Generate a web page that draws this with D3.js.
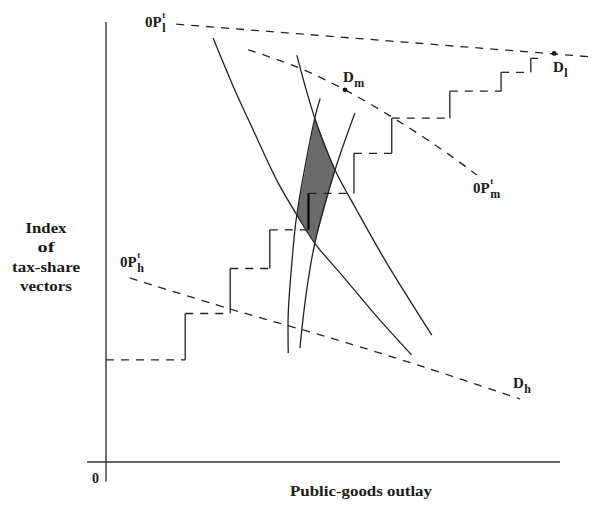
<!DOCTYPE html>
<html><head><meta charset="utf-8">
<script src="https://cdn.jsdelivr.net/npm/d3@7"></script>
<style>
html,body{margin:0;padding:0;background:#fff;}
svg text{font-family:"Liberation Serif","Times New Roman",serif;fill:#1a1a1a;}
</style></head>
<body>
<svg id="c" width="596" height="505"></svg>
<script>
// ---- data (public-goods outlay x, index of tax-share vectors y) ----
const lineLX = [15.6, 108.2];
const lineLY = [97.3, 90.0];
const lineMX = [31.6, 42.4, 53.1, 64.6, 76.4, 82.4];
const lineMY = [91.6, 87.8, 82.7, 76.0, 68.2, 63.8];
const lineHX = [5.3, 27.6, 49.8, 71.3, 92.0];
const lineHY = [40.9, 34.0, 27.6, 20.9, 14.0];
const curveAX = [23.8, 28.3, 32.7, 37.9, 42.4, 46.4, 52.7, 60.2, 67.9];
const curveAY = [94.2, 83.4, 73.8, 62.7, 54.9, 48.6, 41.2, 32.3, 23.8];
const curveBX = [42.4, 46.4, 50.9, 55.7, 62.4, 72.4];
const curveBY = [90.4, 76.4, 64.9, 56.0, 44.2, 28.2];
const curveDX = [47.6, 46.4, 42.4, 41.3, 40.5, 40.5];
const curveDY = [80.8, 76.4, 54.9, 44.2, 33.0, 24.2];
const curveEX = [55.3, 50.9, 46.4, 44.6, 43.5, 43.1];
const curveEY = [77.5, 64.9, 48.6, 38.2, 29.3, 25.3];
const coreX = [46.4, 50.9, 46.4, 42.4];
const coreY = [76.4, 64.9, 48.6, 54.9];
const stepX = [0, 17.6, 27.6, 36.4, 45.0, 55.1, 63.5, 76.4, 87.8, 94.4, 96.0];
const stepY = [22.7, 33.0, 43.0, 51.6, 59.7, 68.6, 76.4, 82.4, 86.6, 89.7];
const dotX = [53.1, 99.6];
const dotY = [82.7, 90.8];

const svg = d3.select("#c");
const x = d3.scaleLinear().domain([0, 100]).range([106, 556]);
const y = d3.scaleLinear().domain([0, 100]).range([462, 12]);
const zip = (a, b) => a.map((v, i) => [v, b[i]]);
const ink = "#222";
const dash = "8,7";

const straight = d3.line().x(d => x(d[0])).y(d => y(d[1]));
const smooth = d3.line().x(d => x(d[0])).y(d => y(d[1])).curve(d3.curveCatmullRom.alpha(0.5));

// shaded core
svg.append("path")
  .attr("d", straight(zip(coreX, coreY)) + "Z")
  .attr("fill", "#6b6b6b").attr("stroke", "none");

// axes
svg.append("line").attr("x1", x(-4.2)).attr("x2", x(100.9)).attr("y1", y(0)).attr("y2", y(0))
  .attr("stroke", "#333").attr("stroke-width", 1.4);
svg.append("line").attr("x1", x(0)).attr("x2", x(0)).attr("y1", y(-4.4)).attr("y2", y(97.8))
  .attr("stroke", "#333").attr("stroke-width", 1.4);

// dashed tax-share lines
[[lineLX, lineLY], [lineMX, lineMY], [lineHX, lineHY]].forEach(([a, b]) => {
  svg.append("path").attr("d", smooth(zip(a, b)))
    .attr("fill", "none").attr("stroke", ink).attr("stroke-width", 1.3)
    .attr("stroke-dasharray", dash);
});

// solid curves
[[curveAX, curveAY], [curveBX, curveBY], [curveDX, curveDY], [curveEX, curveEY]].forEach(([a, b]) => {
  svg.append("path").attr("d", smooth(zip(a, b)))
    .attr("fill", "none").attr("stroke", ink).attr("stroke-width", 1.3);
});

// staircase: dashed horizontals, solid verticals
stepY.forEach((lv, i) => {
  svg.append("line").attr("x1", x(stepX[i])).attr("x2", x(stepX[i + 1]))
    .attr("y1", y(lv)).attr("y2", y(lv))
    .attr("stroke", ink).attr("stroke-width", 1.3).attr("stroke-dasharray", dash);
  if (i < stepY.length - 1) {
    svg.append("line").attr("x1", x(stepX[i + 1])).attr("x2", x(stepX[i + 1]))
      .attr("y1", y(lv)).attr("y2", y(stepY[i + 1]))
      .attr("stroke", i === 3 ? "#000" : ink).attr("stroke-width", i === 3 ? 2.2 : 1.3);
  }
});

// dots
svg.selectAll("circle.d").data(zip(dotX, dotY)).enter().append("circle")
  .attr("cx", d => x(d[0])).attr("cy", d => y(d[1])).attr("r", 2.4).attr("fill", "#111");

// labels
function lbl(px, py, main, sup, sub) {
  const t = svg.append("text").attr("x", px).attr("y", py).attr("font-size", 15)
    .attr("font-weight", "bold").text(main);
  const sx = px + t.node().getComputedTextLength() + 0.5;
  if (sup) svg.append("text").attr("x", sx).attr("y", py - 9).attr("font-size", 9).attr("font-weight", "bold").text(sup);
  if (sub) svg.append("text").attr("x", sx).attr("y", py + 5).attr("font-size", 12).attr("font-weight", "bold").text(sub);
}
lbl(145, 27, "0P", "t", "l");
lbl(473, 193, "0P", "t", "m");
lbl(120, 267, "0P", "t", "h");
lbl(343, 82, "D", null, "m");
lbl(513, 388, "D", null, "h");
lbl(553, 72, "D", null, "l");

svg.append("text").attr("x", 92).attr("y", 483).attr("font-size", 14).attr("font-weight", "bold").text("0");
svg.append("text").attr("x", 290).attr("y", 496).attr("font-size", 15)
  .attr("font-weight", "bold").attr("textLength", 142).attr("lengthAdjust", "spacingAndGlyphs")
  .text("Public-goods outlay");
const yLines = ["Index", "of", "tax-share", "vectors"];
const yWidths = [41, 17, 68, 52];
yLines.forEach((s, i) => {
  svg.append("text").attr("x", 46 - yWidths[i] / 2).attr("y", 233 + i * 19.3)
    .attr("font-size", 15).attr("font-weight", "bold")
    .attr("textLength", yWidths[i]).attr("lengthAdjust", "spacingAndGlyphs").text(s);
});
</script>
</body></html>
